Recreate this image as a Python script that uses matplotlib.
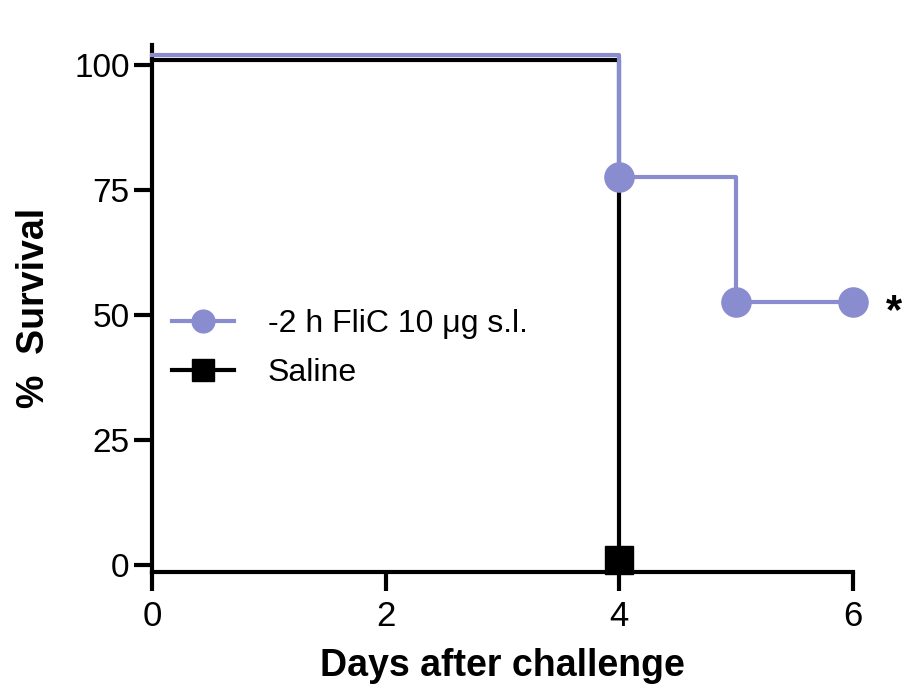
import matplotlib
matplotlib.use("Agg")
import matplotlib.pyplot as plt

plt.rcParams['font.family'] = ['Liberation Sans', 'DejaVu Sans']

# survival curves (values as plotted, slightly offset like the original)
fli_days = [0, 4, 5, 6]
fli_surv = [102, 77.5, 52.5, 52.5]
sal_days = [0, 4]
sal_surv = [101, 1]

xticks = [0, 2, 4, 6]
yticks = [0, 25, 50, 75, 100]

blue = '#8a8cd0'

fig = plt.figure(figsize=(9.04, 6.9), dpi=100)
ax = fig.add_axes([0.168, 0.171, 0.7755, 0.764])

ax.plot(sal_days, sal_surv, drawstyle='steps-post', color='black', lw=3,
        marker='s', markersize=20, markevery=[1], label='Saline',
        zorder=2, clip_on=False)
ax.plot(fli_days, fli_surv, drawstyle='steps-post', color=blue, lw=3,
        marker='o', markersize=21, markevery=[1, 2, 3],
        label='-2 h FliC 10 \u03bcg s.l.', zorder=3, clip_on=False)

ax.set_xlim(0, 6)
ax.set_ylim(-1.4, 104)
ax.set_xticks(xticks)
ax.set_yticks(yticks)
for s in ['top', 'right']:
    ax.spines[s].set_visible(False)
for s in ['left', 'bottom']:
    ax.spines[s].set_linewidth(3)
ax.spines['bottom'].set_bounds(0, 6)
ax.tick_params(width=3, labelsize=24, direction='out')
ax.tick_params(axis='x', length=14, pad=6, labelsize=25)
ax.tick_params(axis='y', length=13, pad=3)

ax.set_xlabel('Days after challenge', fontsize=27, fontweight='bold', labelpad=11)
ax.set_ylabel('%  Survival', fontsize=27, fontweight='bold', labelpad=16)

ax.text(6.35, 50.5, '*', fontsize=30, fontweight='bold', ha='center', va='center',
        clip_on=False)

handles, labels = ax.get_legend_handles_labels()
leg = ax.legend(handles[::-1], labels[::-1], loc='upper left',
                bbox_to_anchor=(172 / 904, 1 - 309 / 690),
                bbox_transform=fig.transFigure, borderpad=0, borderaxespad=0,
                frameon=False, fontsize=23,
                handlelength=1.95, markerscale=0.78, handletextpad=1.05,
                labelspacing=0.6)

fig.savefig('out.png', dpi=100)
